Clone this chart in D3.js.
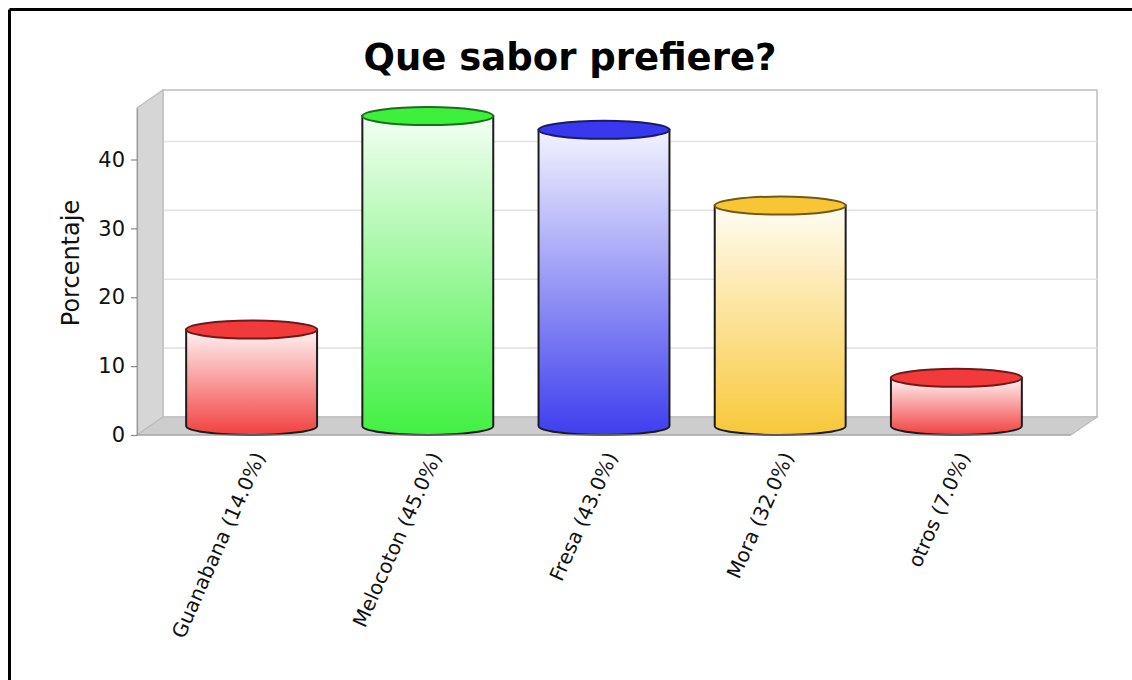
<!DOCTYPE html>
<html>
<head>
<meta charset="utf-8">
<script src="https://cdn.jsdelivr.net/npm/d3@7"></script>
<style>
  html, body { margin: 0; padding: 0; background: #ffffff; }
  svg { display: block; }
</style>
</head>
<body>
<svg id="chart" width="1132" height="680"></svg>
<script>
// Survey results: preferred flavour, percentage of answers
const categories = ["Guanabana", "Melocoton", "Fresa", "Mora", "otros"];
const values = [14, 45, 43, 32, 7];
const barColors = ["#f23a3a", "#3cf03c", "#3838ee", "#f8c634", "#f23a3a"];
const yTicks = [0, 10, 20, 30, 40];
const titleText = "Que sabor prefiere?";
const yLabelText = "Porcentaje";

(function draw() {
  const svg = d3.select("#chart");
  const W = 1132, H = 680;

  // 3D depth offset of the plot box
  const DX = 26, DY = 18;
  // front plane of the plot
  const pLeft = 137, pRight = 1071, pBottom = 435, pTop = 108;

  const x = d3.scaleBand()
    .domain(categories)
    .range([pLeft, pRight])
    .paddingInner(0.257)
    .paddingOuter(0.279);

  const y = d3.scaleLinear()
    .domain([0, d3.max(values) * 1.055])
    .range([pBottom, pTop]);

  svg.append("rect").attr("width", W).attr("height", H).attr("fill", "#ffffff");

  // frame (left and top edges)
  svg.append("line").attr("x1", 9.5).attr("y1", 9.5).attr("x2", W).attr("y2", 9.5)
    .attr("stroke", "#000").attr("stroke-width", 3);
  svg.append("line").attr("x1", 9.5).attr("y1", 9.5).attr("x2", 9.5).attr("y2", H)
    .attr("stroke", "#000").attr("stroke-width", 3);

  // title
  svg.append("text")
    .attr("x", 570).attr("y", 70)
    .attr("text-anchor", "middle")
    .attr("font-family", "DejaVu Sans")
    .attr("font-weight", "bold")
    .attr("font-size", 37)
    .attr("fill", "#000")
    .text(titleText);

  // back wall
  svg.append("rect")
    .attr("x", pLeft + DX).attr("y", pTop - DY)
    .attr("width", pRight - pLeft).attr("height", pBottom - pTop)
    .attr("fill", "#ffffff").attr("stroke", "#bdbdbd").attr("stroke-width", 1.5);

  // gridlines on back wall
  svg.append("g").selectAll("line")
    .data(yTicks.filter(d => d > 0))
    .join("line")
    .attr("x1", pLeft + DX).attr("x2", pRight + DX)
    .attr("y1", d => y(d) - DY).attr("y2", d => y(d) - DY)
    .attr("stroke", "#e3e3e3").attr("stroke-width", 1.6);

  // left wall
  svg.append("path")
    .attr("d", `M${pLeft},${pTop} L${pLeft + DX},${pTop - DY} L${pLeft + DX},${pBottom - DY} L${pLeft},${pBottom} Z`)
    .attr("fill", "#d6d6d6").attr("stroke", "#bcbcbc").attr("stroke-width", 1.2);

  // floor
  svg.append("path")
    .attr("d", `M${pLeft},${pBottom} L${pLeft + DX},${pBottom - DY} L${pRight + DX},${pBottom - DY} L${pRight},${pBottom} Z`)
    .attr("fill", "#cdcdcd").attr("stroke", "#bcbcbc").attr("stroke-width", 1.2);

  // gradients for cylinder sides
  const defs = svg.append("defs");
  barColors.forEach((c, i) => {
    const g = defs.append("linearGradient")
      .attr("id", "side" + i)
      .attr("x1", 0).attr("y1", 0).attr("x2", 0).attr("y2", 1);
    g.append("stop").attr("offset", 0).attr("stop-color", d3.interpolateRgb("#ffffff", c)(0.06));
    g.append("stop").attr("offset", 1).attr("stop-color", d3.interpolateRgb("#ffffff", c)(0.97));
  });

  // cylinders
  const bars = svg.append("g").selectAll("g")
    .data(categories.map((c, i) => ({ c, v: values[i], i })))
    .join("g");

  const rx = x.bandwidth() / 2, ry = DY / 2;

  bars.append("path")
    .attr("d", d => {
      const x0 = x(d.c), x1 = x0 + x.bandwidth();
      const yt = y(d.v) - ry, yb = y(0) - ry;
      return `M${x0},${yt} L${x0},${yb} A${rx},${ry} 0 0 0 ${x1},${yb} L${x1},${yt} Z`;
    })
    .attr("fill", d => `url(#side${d.i})`)
    .attr("stroke", "#1c1c1c").attr("stroke-width", 2);

  bars.append("ellipse")
    .attr("cx", d => x(d.c) + rx)
    .attr("cy", d => y(d.v) - ry)
    .attr("rx", rx).attr("ry", ry)
    .attr("fill", d => barColors[d.i])
    .attr("stroke", d => d3.color(barColors[d.i]).darker(2.2))
    .attr("stroke-width", 2);

  // value axis
  const yAxis = svg.append("g")
    .attr("transform", `translate(${pLeft},0)`)
    .call(d3.axisLeft(y).tickValues(yTicks).tickSize(6).tickPadding(6).tickSizeOuter(0));
  yAxis.select(".domain").attr("stroke", "#9a9a9a").attr("stroke-width", 1.2);
  yAxis.selectAll(".tick line").attr("stroke", "#8a8a8a").attr("stroke-width", 1.2);
  yAxis.selectAll(".tick text")
    .attr("font-family", "DejaVu Sans")
    .attr("font-size", 21)
    .attr("fill", "#111");

  // category axis line
  svg.append("line")
    .attr("x1", pLeft).attr("x2", pRight)
    .attr("y1", pBottom).attr("y2", pBottom)
    .attr("stroke", "#9a9a9a").attr("stroke-width", 1.2);

  // value axis label
  svg.append("text")
    .attr("transform", `translate(79,263) rotate(-90)`)
    .attr("text-anchor", "middle")
    .attr("font-family", "DejaVu Sans")
    .attr("font-size", 24)
    .attr("fill", "#111")
    .text(yLabelText);

  // rotated category labels
  svg.append("g").selectAll("text")
    .data(categories.map((c, i) => ({ c, v: values[i] })))
    .join("text")
    .attr("transform", d => `translate(${x(d.c) + x.bandwidth() / 2 + 9},${pBottom + 19}) rotate(-66)`)
    .attr("text-anchor", "end")
    .attr("dominant-baseline", "middle")
    .attr("font-family", "DejaVu Sans")
    .attr("font-size", 20)
    .attr("fill", "#111")
    .text(d => `${d.c} (${d.v.toFixed(1)}%)`);
})();
</script>
</body>
</html>
